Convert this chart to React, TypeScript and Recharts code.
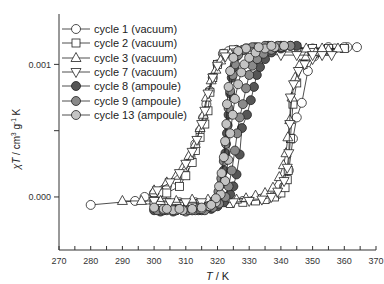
import { ScatterChart, Scatter, XAxis, YAxis, Legend } from "recharts"

// vacuum cycles: open symbols
const cycle1T = [280, 294, 298, 303, 308, 313, 318, 323, 328, 332, 336, 339, 341, 342.5, 343.8, 345, 346.6, 348.5, 350.5, 353, 357, 361, 364,
  360, 355, 350, 345, 340, 335, 330, 326, 323.5, 321.7, 320, 318.5, 317.5, 316.5, 315.5, 314.5, 313, 311.5, 309.5, 307, 304, 300, 297]
const cycle1Chi = [-0.00006, -0.00003, -0.00002, -0.00003, -0.00004, -0.00004, -0.00004, -0.00004, -0.00003, -0.00002, -0.00001, 0.00002, 0.00008, 0.0002, 0.00044, 0.0006, 0.00071, 0.00095, 0.00106, 0.0011, 0.00112, 0.00113, 0.00113,
  0.00113, 0.00113, 0.00112, 0.00112, 0.00112, 0.00112, 0.00112, 0.00111, 0.0011, 0.00108, 0.001, 0.0009, 0.0008, 0.0007, 0.0006, 0.0005, 0.0004, 0.0003, 0.0002, 0.00013, 0.00008, 0.00003, 0]

const cycle2T = [300, 304, 308, 312, 316, 320, 324, 328, 332, 335, 338, 340, 341.3, 342, 342.3, 343, 343.8, 345, 347, 350, 355, 360,
  355, 350, 345, 340, 335, 330, 325, 322, 320, 318.5, 317.6, 317, 316, 314.5, 313, 312, 310, 308, 304, 300]
const cycle2Chi = [-0.00003, -0.00004, -0.00005, -0.00005, -0.00005, -0.00005, -0.00005, -0.00004, -0.00003, -0.00002, 0, 0.00003, 0.00007, 0.00013, 0.0002, 0.00044, 0.0007, 0.00086, 0.001, 0.00108, 0.00111, 0.00112,
  0.00112, 0.00112, 0.00113, 0.00113, 0.00112, 0.00112, 0.00111, 0.00108, 0.001, 0.0009, 0.00079, 0.00065, 0.00055, 0.00045, 0.00035, 0.00026, 0.00016, 0.00008, 0.00003, -0.00003]

const cycle3T = [290, 296, 302, 307, 312, 317, 322, 326, 329, 332, 335, 337.5, 339.5, 340.8, 341.6, 342.2, 342.8, 343.5, 344.5, 346, 348, 351, 355, 358,
  353, 348, 343, 338, 333, 328, 324, 321, 319.5, 318, 316.5, 315.5, 314.5, 313, 311, 309, 307, 304, 300]
const cycle3Chi = [-0.00003, -0.00003, -0.00003, -0.00003, -0.00002, -0.00002, -0.00002, -0.00002, -0.00001, 0.00001, 0.00003, 0.00007, 0.00015, 0.00024, 0.00033, 0.00045, 0.00058, 0.00075, 0.0009, 0.001, 0.00106, 0.00109, 0.00111, 0.00112,
  0.00112, 0.00112, 0.00112, 0.00112, 0.00111, 0.0011, 0.00108, 0.00103, 0.00096, 0.00088, 0.00075, 0.00062, 0.00052, 0.0004, 0.00031, 0.00022, 0.00016, 0.00011, 0.00005]

const cycle7T = [300, 305, 310, 315, 320, 325, 330, 334, 337, 339, 341, 342, 342.5, 342.8, 343, 344, 345.5, 347.5, 350, 353, 356,
  350, 345, 340, 335, 330, 326, 322.5, 320, 318.5, 317, 316, 315, 313.5, 312, 310, 308, 305, 301]
const cycle7Chi = [-0.00003, -0.00004, -0.00004, -0.00004, -0.00004, -0.00004, -0.00003, -0.00002, 0, 0.00004, 0.00012, 0.00022, 0.00033, 0.00055, 0.00075, 0.00085, 0.00095, 0.001, 0.00104, 0.00107, 0.00107,
  0.00107, 0.00107, 0.00107, 0.00108, 0.00109, 0.00109, 0.00106, 0.00099, 0.0009, 0.00078, 0.00065, 0.00055, 0.00043, 0.00034, 0.00025, 0.00018, 0.00011, 0.00005]

// ampoule cycles: filled circles
const cycle8T = [300, 303, 306, 309, 312, 315, 318, 320, 322, 324, 325, 326, 327, 327.7, 329.3, 330.5, 331.5, 332.4, 333.4, 335, 337, 340, 343, 345,
  340, 336, 332, 329, 327, 326, 325.3, 324.5, 324, 323.5, 323, 322.5, 322, 321.3, 320.5, 319, 317, 314, 310, 306, 302]
const cycle8Chi = [-0.0001, -0.0001, -0.0001, -0.0001, -0.0001, -0.0001, -0.00009, -0.00007, -0.00004, 0.00002, 0.00008, 0.00017, 0.00032, 0.00052, 0.00062, 0.00073, 0.00083, 0.00092, 0.00098, 0.00104, 0.00109, 0.00112, 0.00114, 0.00114,
  0.00114, 0.00114, 0.00113, 0.00112, 0.0011, 0.00106, 0.00098, 0.0009, 0.00078, 0.00062, 0.00048, 0.00033, 0.0002, 0.0001, 0.00001, -0.00005, -0.00008, -0.0001, -0.0001, -0.00011, -0.00011]

const cycle9T = [301, 304, 307, 310, 313, 316, 318.5, 320.5, 322.5, 323.5, 324.5, 325.5, 326.2, 327, 328, 329, 330, 331, 332.5, 334.5, 337, 340, 343,
  339, 335, 331, 328, 326.5, 325.5, 324.8, 324, 323.5, 323.2, 322.7, 322, 321.2, 320.3, 319, 317, 314, 311, 307, 303]
const cycle9Chi = [-0.0001, -0.0001, -0.0001, -0.00011, -0.0001, -0.0001, -0.00008, -0.00005, 0, 0.00008, 0.0002, 0.00035, 0.00048, 0.0006, 0.0007, 0.00082, 0.00092, 0.00099, 0.00104, 0.00108, 0.00111, 0.00113, 0.00114,
  0.00114, 0.00114, 0.00113, 0.00111, 0.00107, 0.001, 0.00092, 0.0008, 0.00067, 0.00054, 0.0004, 0.00027, 0.00014, 0.00004, -0.00003, -0.00007, -0.00009, -0.0001, -0.0001, -0.0001]

const cycle13T = [300, 303, 306, 309, 312, 315, 317.5, 319.5, 321, 322.4, 323.4, 324, 324.8, 325.5, 326.5, 327.5, 328.5, 330, 332, 335, 338, 341,
  337, 333, 329, 326.5, 325, 324, 323.5, 323, 322.8, 322.4, 322, 321.3, 320.5, 319.5, 318, 315, 312, 308, 304]
const cycle13Chi = [-0.00008, -0.00009, -0.0001, -0.0001, -0.0001, -0.00009, -0.00007, -0.00004, 0.00002, 0.00012, 0.00028, 0.00048, 0.00062, 0.00074, 0.00085, 0.00094, 0.001, 0.00105, 0.00109, 0.00112, 0.00113, 0.00114,
  0.00114, 0.00113, 0.00112, 0.0011, 0.00105, 0.00095, 0.00083, 0.0007, 0.00055, 0.00042, 0.0003, 0.00018, 0.00008, -0.00001, -0.00006, -0.00008, -0.00009, -0.00009, -0.00009]

const xTicks = [270, 275, 280, 285, 290, 295, 300, 305, 310, 315, 320, 325, 330, 335, 340, 345, 350, 355, 360, 365, 370]
const yTicks = [0, 0.0005, 0.001]

const font = "'Liberation Sans', Arial, sans-serif"
const ink = "#222"

const toPoints = (ts: number[], vs: number[]) => ts.map((t, i) => ({ t, chi: vs[i] }))

const series = [
  { name: "cycle 1 (vacuum)", kind: "circle", fill: "#fff", data: toPoints(cycle1T, cycle1Chi) },
  { name: "cycle 2 (vacuum)", kind: "square", fill: "#fff", data: toPoints(cycle2T, cycle2Chi) },
  { name: "cycle 3 (vacuum)", kind: "up", fill: "#fff", data: toPoints(cycle3T, cycle3Chi) },
  { name: "cycle 7 (vacuum)", kind: "down", fill: "#fff", data: toPoints(cycle7T, cycle7Chi) },
  { name: "cycle 8 (ampoule)", kind: "circle", fill: "#555", data: toPoints(cycle8T, cycle8Chi) },
  { name: "cycle 9 (ampoule)", kind: "circle", fill: "#8a8a8a", data: toPoints(cycle9T, cycle9Chi) },
  { name: "cycle 13 (ampoule)", kind: "circle", fill: "#c4c4c4", data: toPoints(cycle13T, cycle13Chi) },
]

function Marker({ cx, cy, kind, fill }: { cx?: number; cy?: number; kind: string; fill: string }) {
  if (cx == null || cy == null) return null
  const common = { fill, stroke: ink, strokeWidth: 0.8 }
  if (kind === "square") return <rect x={cx - 4} y={cy - 4} width={8} height={8} {...common} />
  if (kind === "up") return <polygon points={`${cx},${cy - 5.5} ${cx + 5},${cy + 3.5} ${cx - 5},${cy + 3.5}`} {...common} />
  if (kind === "down") return <polygon points={`${cx},${cy + 5.5} ${cx + 5},${cy - 3.5} ${cx - 5},${cy - 3.5}`} {...common} />
  return <circle cx={cx} cy={cy} r={4.5} {...common} />
}

function LegendBox() {
  return (
    <div style={{ fontFamily: font, fontSize: 11, color: ink }}>
      {series.map((s) => (
        <div key={s.name} style={{ display: "flex", alignItems: "center", height: 14.3 }}>
          <svg width={28} height={12} style={{ marginRight: 4 }}>
            <line x1={0} y1={6} x2={28} y2={6} stroke={ink} strokeWidth={0.8} />
            <Marker cx={14} cy={6} kind={s.kind} fill={s.fill} />
          </svg>
          <span style={{ whiteSpace: "nowrap" }}>{s.name}</span>
        </div>
      ))}
    </div>
  )
}

function YTitle(props: any) {
  const vb = props.viewBox || { x: 0, y: 14, width: 59, height: 236 }
  const x = vb.x + 20
  const y = vb.y + vb.height / 2 + 7
  return (
    <text x={x} y={y} transform={`rotate(-90 ${x} ${y})`} textAnchor="middle" fontFamily={font} fontSize={10} fill={ink}>
      <tspan fontStyle="italic">χT</tspan>
      <tspan> / cm</tspan>
      <tspan dy={-4} fontSize={6.5}>3</tspan>
      <tspan dy={4}> g</tspan>
      <tspan dy={-4} fontSize={6.5}>-1</tspan>
      <tspan dy={4}> K</tspan>
    </text>
  )
}

function XTitle(props: any) {
  const vb = props.viewBox || { x: 59, y: 250, width: 317, height: 34 }
  const x = vb.x + vb.width / 2
  const y = vb.y + 30
  return (
    <text x={x} y={y} textAnchor="middle" fontFamily={font} fontSize={11} fill={ink}>
      <tspan fontStyle="italic">T</tspan>
      <tspan> / K</tspan>
    </text>
  )
}

export default function App() {
  const tickStyle = { fontFamily: font, fontSize: 9, fill: "#333" }
  return (
    <div style={{ position: "absolute", left: 0, top: 0, width: 384, height: 284, background: "#fff" }}>
      <ScatterChart width={384} height={284} margin={{ top: 14, right: 8, bottom: 0, left: 0 }}>
        <XAxis
          xAxisId="b" dataKey="t" type="number" domain={[270, 370]} allowDataOverflow ticks={xTicks}
          tickFormatter={(v: number) => (v % 10 === 0 ? String(v) : "")}
          height={34} tickSize={-4} tickMargin={12} tick={tickStyle}
          stroke="#333" axisLine={{ stroke: "#333", strokeWidth: 1 }} tickLine={{ stroke: "#333" }}
          label={<XTitle />}
        />
        <XAxis
          xAxisId="top" orientation="top" type="number" domain={[270, 370]} allowDataOverflow ticks={xTicks}
          tickFormatter={() => ""} height={0} mirror tickSize={3}
          axisLine={{ stroke: "#333", strokeWidth: 1 }} tickLine={{ stroke: "#333" }}
        />
        <YAxis
          yAxisId="l" dataKey="chi" type="number" domain={[-0.0004, 0.00138]} allowDataOverflow ticks={yTicks}
          tickFormatter={(v: number) => (v === 0.0005 ? "" : v.toFixed(3))}
          width={59} tickSize={5} tickMargin={3} tick={tickStyle}
          axisLine={{ stroke: "#333", strokeWidth: 1 }} tickLine={{ stroke: "#333" }}
          label={<YTitle />}
        />
        <YAxis
          yAxisId="r" orientation="right" type="number" domain={[-0.0004, 0.00138]} allowDataOverflow ticks={[0, 0.001]}
          tickFormatter={() => ""} width={0} mirror tickSize={6}
          axisLine={{ stroke: "#333", strokeWidth: 1 }} tickLine={{ stroke: "#333" }}
        />
        <Legend
          layout="vertical" align="center" verticalAlign="middle"
          content={() => <LegendBox />}
          wrapperStyle={{ left: 62, top: 22, width: 140, height: 104 }}
        />
        {series.map((s) => (
          <Scatter
            key={s.name} name={s.name} data={s.data} xAxisId="b" yAxisId="l"
            line={{ stroke: ink, strokeWidth: 0.8 }} lineType="joint"
            shape={(p: any) => <Marker cx={p.cx} cy={p.cy} kind={s.kind} fill={s.fill} />}
            isAnimationActive={false}
          />
        ))}
      </ScatterChart>
    </div>
  )
}
